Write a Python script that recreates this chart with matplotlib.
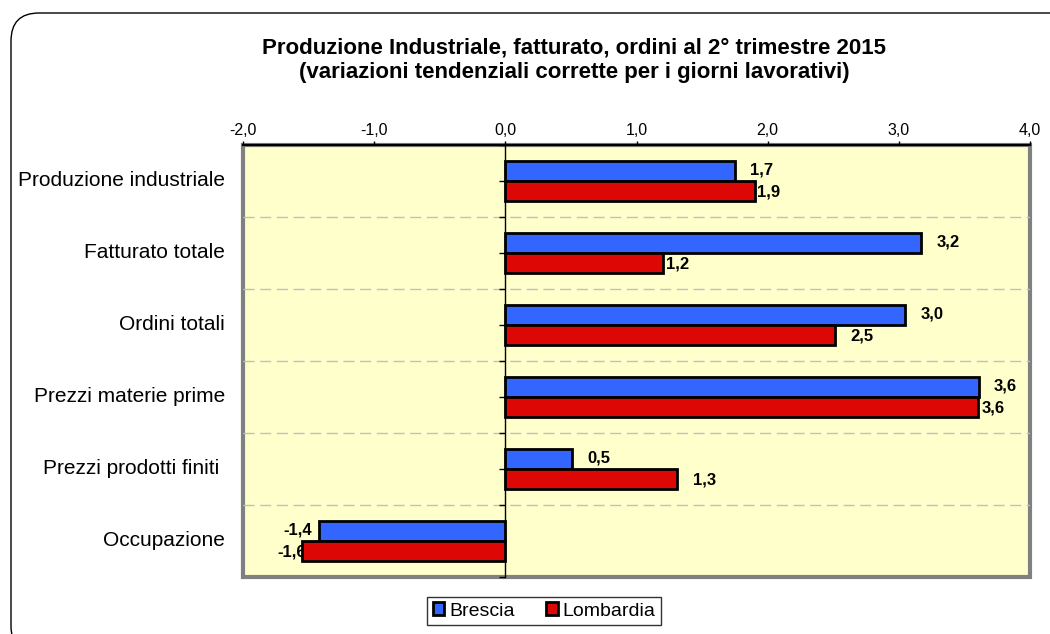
import matplotlib
matplotlib.use("Agg")
import matplotlib.pyplot as plt
from matplotlib.patches import FancyBboxPatch, Rectangle, Patch
from matplotlib.transforms import IdentityTransform, blended_transform_factory
import numpy as np

plt.rcParams['font.family'] = ['Liberation Sans', 'DejaVu Sans']

categories = ["Produzione industriale", "Fatturato totale", "Ordini totali",
              "Prezzi materie prime", "Prezzi prodotti finiti ", "Occupazione"]
series_names = ["Brescia", "Lombardia"]
brescia = [1.75, 3.17, 3.05, 3.61, 0.51, -1.42]
lombardia = [1.90, 1.20, 2.51, 3.60, 1.31, -1.55]
brescia_labels = ["1,7", "3,2", "3,0", "3,6", "0,5", "-1,4"]
lombardia_labels = ["1,9", "1,2", "2,5", "3,6", "1,3", "-1,6"]
xticks = [-2.0, -1.0, 0.0, 1.0, 2.0, 3.0, 4.0]
xtick_labels = ["-2,0", "-1,0", "0,0", "1,0", "2,0", "3,0", "4,0"]
title = "Produzione Industriale, fatturato, ordini al 2° trimestre 2015\n(variazioni tendenziali corrette per i giorni lavorativi)"

BLUE = "#3366FF"
RED = "#DD0806"

fig = plt.figure(figsize=(10.5, 6.34), dpi=100)

# outer rounded frame
frame = FancyBboxPatch((11, -20), 1070, 641, boxstyle="round,pad=0,rounding_size=28",
                       transform=IdentityTransform(), fill=False, edgecolor="black",
                       linewidth=1.0, clip_on=False)
fig.patches.append(frame)

ax = fig.add_axes([243/1050, 1-577/634, (1030-243)/1050, (577-145)/634])
ax.set_facecolor("#FFFFCC")

y = np.arange(len(categories))
h = 0.28
ax.barh(y - h/2, brescia, height=h, color=BLUE, edgecolor="black", linewidth=2, zorder=3)
ax.barh(y + h/2, lombardia, height=h, color=RED, edgecolor="black", linewidth=2, zorder=3)

ax.set_xlim(-2, 4)
ax.set_ylim(len(categories) - 0.5, -0.5)

# dashed separators
for b in np.arange(0.5, len(categories) - 0.5, 1):
    ax.axhline(b, color="#C0C0C0", linestyle=(0, (8, 4)), linewidth=1.0, zorder=1)

# value labels
lomb_dx = [2, 3, 16, 4, 16, 0]
FS_VAL = 12
for i in range(len(categories)):
    v = brescia[i]
    if v >= 0:
        ax.annotate(brescia_labels[i], (v, y[i] - h/2), xytext=(11, 1), textcoords="offset points",
                    ha="left", va="center", fontsize=FS_VAL, fontweight="bold", zorder=5)
    else:
        ax.annotate(brescia_labels[i], (v, y[i] - h/2), xytext=(-5, 1), textcoords="offset points",
                    ha="right", va="center", fontsize=FS_VAL, fontweight="bold", zorder=5)
    v = lombardia[i]
    if v >= 0:
        ax.annotate(lombardia_labels[i], (v, y[i] + h/2), xytext=(lomb_dx[i] * 0.72, -1), textcoords="offset points",
                    ha="left", va="center", fontsize=FS_VAL, fontweight="bold", zorder=5)
    else:
        ax.annotate(lombardia_labels[i], (v, y[i] + h/2), xytext=(3, -1), textcoords="offset points",
                    ha="right", va="center", fontsize=FS_VAL, fontweight="bold", zorder=2)

# x axis on top
ax.xaxis.tick_top()
ax.set_xticks(xticks)
ax.set_xticklabels(xtick_labels, fontsize=11.5)
ax.tick_params(axis="x", direction="out", length=3, width=1, pad=2, colors="black")

# category axis at zero
ax.spines["left"].set_position(("data", 0))
ax.spines["left"].set_linewidth(1.0)
ax.spines["left"].set_zorder(4)
ax.set_yticks(y)
ax.set_yticks(np.arange(-0.5, len(categories) + 0.5, 1), minor=True)
ax.set_yticklabels([])
ax.tick_params(axis="y", which="both", direction="out", length=4, width=1, left=True)
for s in ["right", "bottom"]:
    ax.spines[s].set_visible(False)
ax.spines["top"].set_linewidth(1.5)

# gray plot-area frame
ax.add_patch(Rectangle((0, 0), 1, 1, transform=ax.transAxes, fill=False,
                       edgecolor="#808080", linewidth=3, zorder=0.5, clip_on=False))
ax.plot([0, 1], [1, 1], transform=ax.transAxes, color="black", linewidth=1.5, clip_on=False, zorder=6)

# category labels
trans = blended_transform_factory(ax.transAxes, ax.transData)
for i, c in enumerate(categories):
    ax.text(-0.023, y[i], c, transform=trans, ha="right", va="center", fontsize=15)

fig.text(574/1050, 1-60/634, title, ha="center", va="center", fontsize=16,
         fontweight="bold", linespacing=1.2)

handles = [Patch(facecolor=BLUE, edgecolor="black", linewidth=2),
           Patch(facecolor=RED, edgecolor="black", linewidth=2)]
leg = fig.legend(handles, series_names, loc="center", bbox_to_anchor=(544/1050, 1-611/634),
                 ncol=2, fontsize=14, frameon=True, fancybox=False, edgecolor="black",
                 handlelength=0.6, handleheight=0.6, handletextpad=0.25, columnspacing=1.6,
                 borderpad=0.3, borderaxespad=0)
leg.get_frame().set_linewidth(1.0)

fig.savefig("out.png", dpi=100)
